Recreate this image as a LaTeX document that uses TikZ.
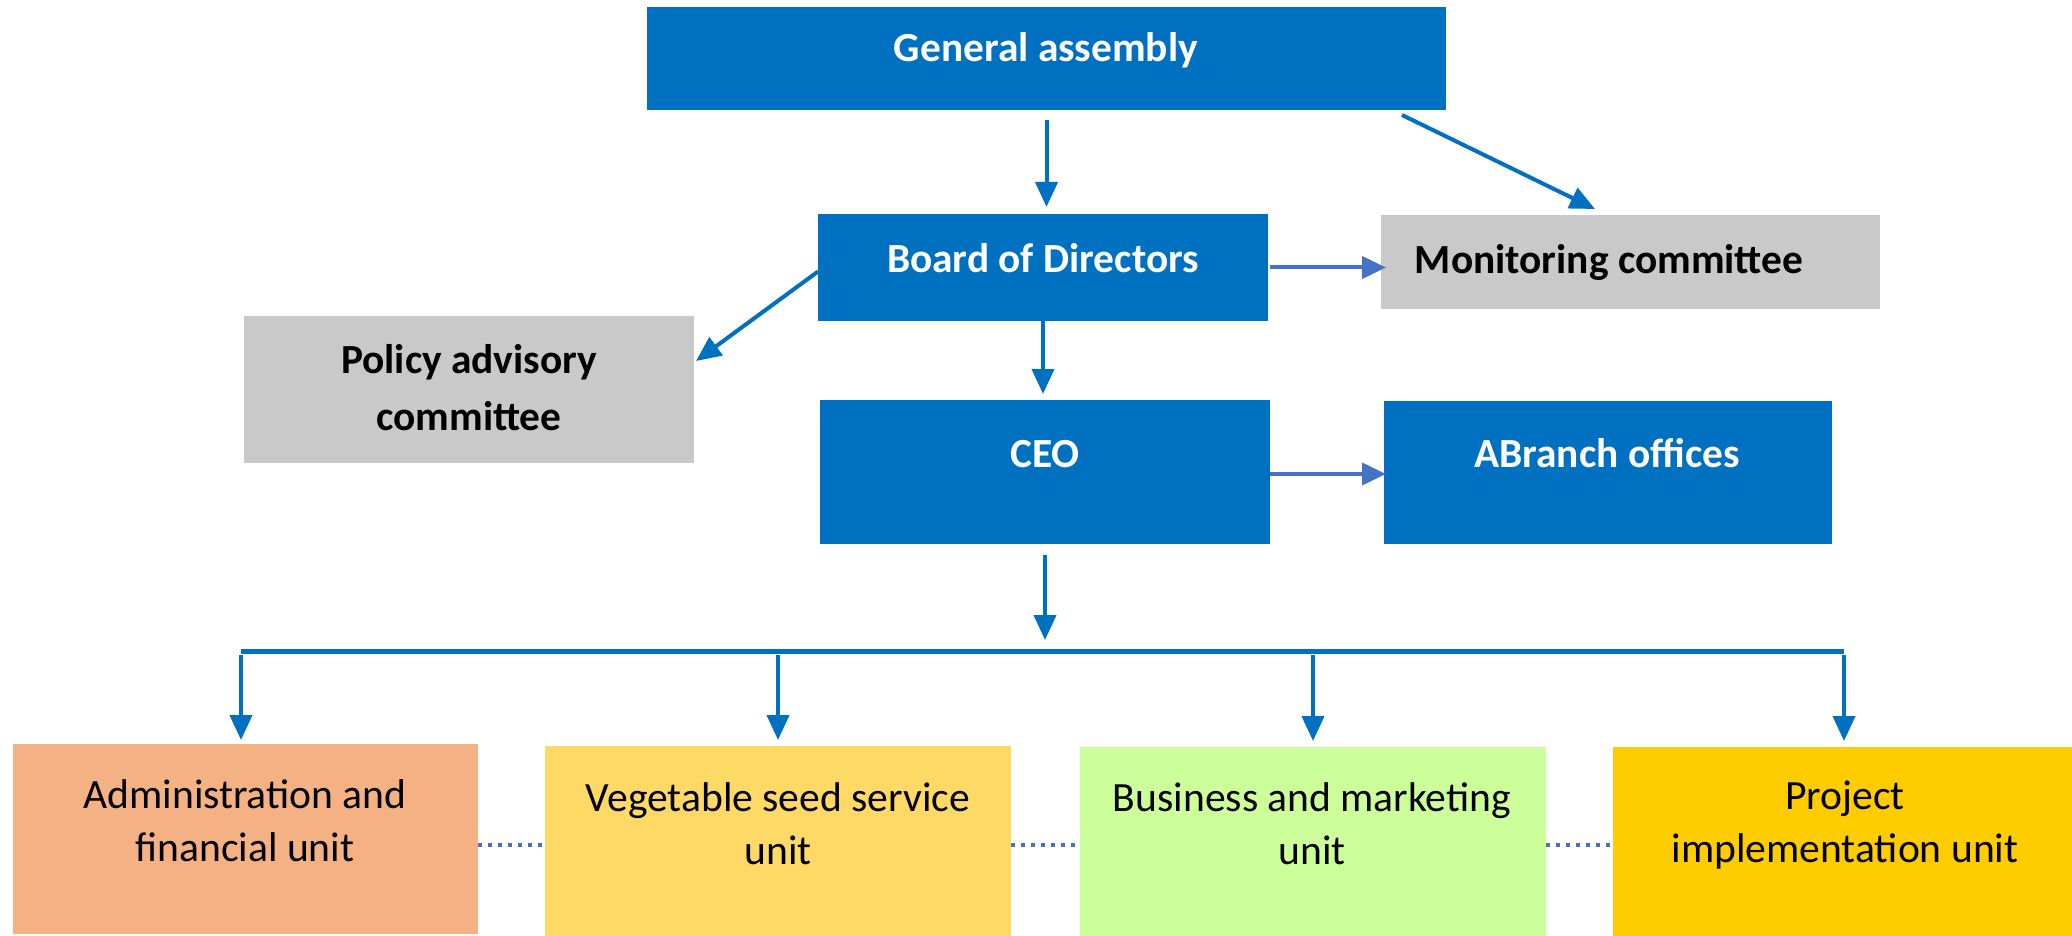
\documentclass[tikz,border=0pt]{standalone}
\usepackage{fontspec}
\setmainfont{Carlito}
\usetikzlibrary{arrows.meta,calc}
\definecolor{cblue}{HTML}{0070C0}
\definecolor{clblue}{HTML}{4472C4}
\definecolor{cgray}{HTML}{C9C9C9}
\definecolor{cadmin}{HTML}{F4B183}
\definecolor{cveg}{HTML}{FFD966}
\definecolor{cbus}{HTML}{CCFF99}
\definecolor{cproj}{HTML}{FFCC00}
\tikzset{
  box/.style={inner sep=0pt, outer sep=0pt, draw=none, anchor=north west},
  bluebox/.style={box, fill=cblue},
  graybox/.style={box, fill=cgray},
  wlabel/.style={text=white, font=\fontsize{20.7}{26}\bfseries\selectfont, inner sep=0pt},
  klabel/.style={text=black, font=\fontsize{20.7}{28.5}\bfseries\selectfont, inner sep=0pt, align=center},
  ulabel/.style={text=black, font=\fontsize{20.8}{26.5}\selectfont, inner sep=0pt, align=center},
  arr/.style={draw=cblue, line width=2pt, -{Triangle[length=12.5pt,width=11pt]}},
  larr/.style={draw=clblue, line width=2pt, -{Triangle[length=12pt,width=11pt]}},
  busline/.style={draw=cblue, line width=2.5pt},
  dotline/.style={draw=clblue, line width=2.2pt, dash pattern=on 2.2pt off 2.8pt}
}
\begin{document}
\begin{tikzpicture}[x=0.5pt,y=-0.5pt]
\useasboundingbox[fill=white] (0,0) rectangle (2072,936);
% boxes
\node (ga) [bluebox, minimum width=399.5pt, minimum height=51.5pt] at (647,7) {};
\node (board) [bluebox, minimum width=225pt, minimum height=53.5pt] at (818,214) {};
\node (mon) [graybox, minimum width=249.5pt, minimum height=47pt] at (1381,215) {};
\node (policy) [graybox, minimum width=225pt, minimum height=73.5pt] at (244,316) {};
\node (ceo) [bluebox, minimum width=225pt, minimum height=72pt] at (820,400) {};
\node (branch) [bluebox, minimum width=224pt, minimum height=71.5pt] at (1384,401) {};
\node (admin) [box, fill=cadmin, minimum width=232.5pt, minimum height=95pt] at (13,744) {};
\node (veg) [box, fill=cveg, minimum width=233pt, minimum height=95pt] at (545,746) {};
\node (bus) [box, fill=cbus, minimum width=233pt, minimum height=94.5pt] at (1080,747) {};
\node (proj) [box, fill=cproj, minimum width=229.5pt, minimum height=94.5pt] at (1613,747) {};
% labels
\node (ga-t) [wlabel, anchor=base] at (1046,62) {General assembly};
\node (board-t) [wlabel, anchor=base] at (1043,272) {Board of Directors};
\node (mon-t) [wlabel, text=black, anchor=base] at (1609,274) {Monitoring committee};
\node (policy-t) [klabel] at (469,388) {Policy advisory\\committee};
\node (ceo-t) [wlabel, anchor=base] at (1045,467) {CEO};
\node (branch-t) [wlabel, anchor=base] at (1607,467) {ABranch offices};
\node (admin-t) [ulabel] at (245,821) {Administration and\\financial unit};
\node (veg-t) [ulabel] at (778,824) {Vegetable seed service\\unit};
\node (bus-t) [ulabel] at (1312,824) {Business and marketing\\unit};
\node (proj-t) [ulabel] at (1845,825) {Project\\implementation unit};
% connectors
\draw[arr, shorten <=5pt, shorten >=3.5pt] (ga.south) -- (ga.south |- board.north);
\draw[arr] ($(ga.south east)+(-44,5)$) -- ($(mon.north west)+(214,-6)$);
\draw[arr] ($(board.west)+(0,4)$) -- ($(policy.north east)+(2,45)$);
\draw[larr, shorten <=1pt, shorten >=-2.5pt] (board.east) -- (mon.west |- board.east);
\draw[arr, shorten >=3pt] (board.south) -- (board.south |- ceo.north);
\draw[larr, shorten >=-1pt] ($(ceo.east)+(0,2)$) -- ($(branch.west |- ceo.east)+(0,2)$);
\coordinate (busL) at (241,651);
\coordinate (busR) at (1844,651);
\draw[busline] (busL) -- (busR);
\draw[arr, shorten <=5.5pt, shorten >=5.5pt] (ceo.south) -- (ceo.south |- busL);
\draw[arr, shorten <=2pt, shorten >=2pt] (busL) -- (busL |- admin.north);
\draw[arr, shorten <=2pt, shorten >=3pt] (veg.north |- busL) -- (veg.north);
\draw[arr, shorten <=2pt, shorten >=3pt] (bus.north |- busL) -- (bus.north);
\draw[arr, shorten <=2pt, shorten >=3pt] (busR) -- (busR |- proj.north);
\coordinate (dotY) at (0,845);
\draw[dotline] (admin.east |- dotY) -- (veg.west |- dotY);
\draw[dotline] (veg.east |- dotY) -- (bus.west |- dotY);
\draw[dotline] (bus.east |- dotY) -- (proj.west |- dotY);
\end{tikzpicture}
\end{document}
